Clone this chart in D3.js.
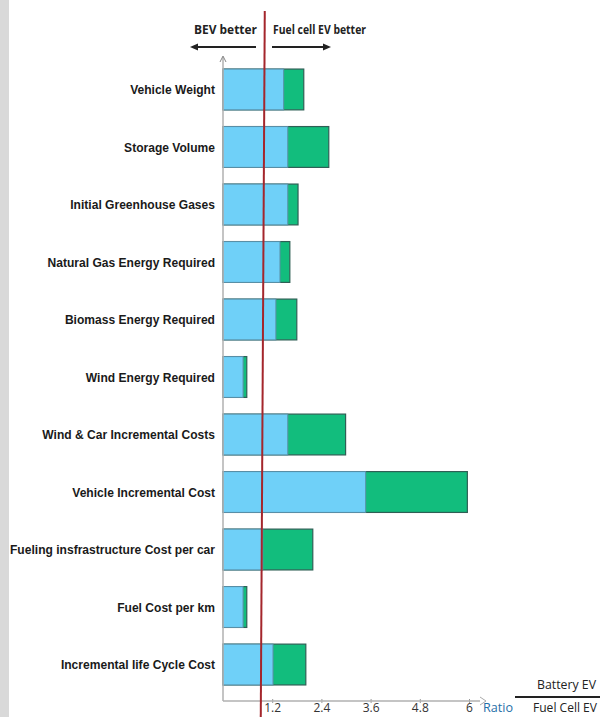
<!DOCTYPE html>
<html><head><meta charset="utf-8">
<script src="https://cdn.jsdelivr.net/npm/d3@7"></script>
<style>
html,body{margin:0;padding:0;background:#fff;}
svg{display:block;}
</style></head>
<body>
<svg id="c" width="600" height="717"></svg>
<script>
const categories = ["Vehicle Weight","Storage Volume","Initial Greenhouse Gases","Natural Gas Energy Required","Biomass Energy Required","Wind Energy Required","Wind & Car Incremental Costs","Vehicle Incremental Cost","Fueling insfrastructure Cost per car","Fuel Cost per km","Incremental life Cycle Cost"];
const lowValues  = [1.48,1.58,1.58,1.39,1.29,0.49,1.58,3.48,0.97,0.49,1.22];
const highValues = [1.97,2.58,1.83,1.63,1.80,0.58,2.99,5.96,2.19,0.58,2.02];
const tickValues = [1.2,2.4,3.6,4.8,6];
const parityValue = 0.97;

const svg = d3.select("#c");
const font = "'Liberation Sans',Arial,sans-serif";
const font2 = "'Open Sans','Noto Sans',sans-serif";

function squeeze(sel, k){
  sel.each(function(){
    const w = this.getComputedTextLength();
    d3.select(this).attr("textLength", w*k).attr("lengthAdjust","spacingAndGlyphs");
  });
}

// left grey strip
svg.append("rect").attr("x",0).attr("y",0).attr("width",9).attr("height",717).attr("fill","#d9d9d9");

const x = d3.scaleLinear().domain([0,6]).range([223,469]);
const y = d3.scaleBand().domain(categories).range([61,693]).paddingInner(0.29).paddingOuter(0.14);

// bars
const g = svg.append("g");
g.selectAll("rect.hi").data(categories).join("rect")
  .attr("x", x(0)).attr("y", d=>y(d)).attr("width", (d,i)=>x(highValues[i])-x(0)).attr("height", y.bandwidth())
  .attr("fill","#12bd7d").attr("stroke","#2f5f55").attr("stroke-width",1.2);
g.selectAll("rect.lo").data(categories).join("rect")
  .attr("x", x(0)).attr("y", d=>y(d)).attr("width", (d,i)=>x(lowValues[i])-x(0)).attr("height", y.bandwidth())
  .attr("fill","#6fd0f8").attr("stroke","#5a8fa8").attr("stroke-width",1);

// category labels
const cat = svg.selectAll("text.cat").data(categories).join("text")
  .attr("x",215).attr("y",d=>y(d)+y.bandwidth()/2).attr("dy","0.35em")
  .attr("text-anchor","end").attr("font-family",font).attr("font-weight","bold")
  .attr("font-size",13.5).attr("fill","#1a1a1a").text(d=>d);
let maxW = 0; cat.each(function(){ maxW = Math.max(maxW, this.getComputedTextLength()); });
squeeze(cat, 205/maxW);

// x axis
const axisY = 701;
const ax = svg.append("g").attr("transform",`translate(0,${axisY-2})`)
  .call(d3.axisBottom(x).tickValues(tickValues).tickSize(4).tickFormat(d=>d));
ax.select(".domain").remove();
ax.selectAll("line").attr("stroke","#999");
ax.selectAll("text").attr("font-family",font2).attr("font-size",12).attr("fill","#333").attr("y",13).attr("dy",0);
svg.append("line").attr("x1",x(0)).attr("x2",480).attr("y1",axisY).attr("y2",axisY).attr("stroke","#b0b0b0").attr("stroke-width",1.5);
svg.append("path").attr("d",`M480,${axisY-4}L486,${axisY}L480,${axisY+4}`).attr("fill","none").attr("stroke","#aaa");

// y axis
svg.append("line").attr("x1",x(0)).attr("x2",x(0)).attr("y1",57).attr("y2",axisY).attr("stroke","#b0b0b0").attr("stroke-width",1.5);
svg.append("path").attr("d",`M${x(0)-3},62L${x(0)},56L${x(0)+3},62`).attr("fill","none").attr("stroke","#888");

// parity line
svg.append("line").attr("x1",x(parityValue)+2).attr("x2",x(parityValue)-2).attr("y1",11).attr("y2",717)
  .attr("stroke","#a4262c").attr("stroke-width",2);

// header
svg.append("text").attr("x",194).attr("y",34).attr("font-family",font2).attr("font-weight","bold").attr("font-size",12.5).attr("fill","#222").text("BEV better")
  .attr("textLength",63).attr("lengthAdjust","spacingAndGlyphs");
svg.append("text").attr("x",273).attr("y",34).attr("font-family",font2).attr("font-weight","bold").attr("font-size",12.5).attr("fill","#222").text("Fuel cell EV better")
  .attr("textLength",93).attr("lengthAdjust","spacingAndGlyphs");
svg.append("line").attr("x1",256).attr("x2",194).attr("y1",47).attr("y2",47).attr("stroke","#222").attr("stroke-width",2);
svg.append("path").attr("d","M190,47L198,43.5L198,50.5Z").attr("fill","#222");
svg.append("line").attr("x1",272).attr("x2",326).attr("y1",47).attr("y2",47).attr("stroke","#222").attr("stroke-width",2);
svg.append("path").attr("d","M331,47L323,43.5L323,50.5Z").attr("fill","#222");

// bottom right legend
svg.append("text").attr("x",483).attr("y",712).attr("font-family",font2).attr("font-size",12).attr("fill","#1f6fa8").text("Ratio")
  .attr("textLength",30).attr("lengthAdjust","spacingAndGlyphs");
svg.append("text").attr("x",537).attr("y",689).attr("font-family",font2).attr("font-size",12).attr("fill","#222").text("Battery EV")
  .attr("textLength",59).attr("lengthAdjust","spacingAndGlyphs");
svg.append("line").attr("x1",515).attr("x2",600).attr("y1",697).attr("y2",697).attr("stroke","#222").attr("stroke-width",2);
svg.append("text").attr("x",533).attr("y",712).attr("font-family",font2).attr("font-size",12).attr("fill","#222").text("Fuel Cell EV")
  .attr("textLength",64).attr("lengthAdjust","spacingAndGlyphs");
</script>
</body></html>
